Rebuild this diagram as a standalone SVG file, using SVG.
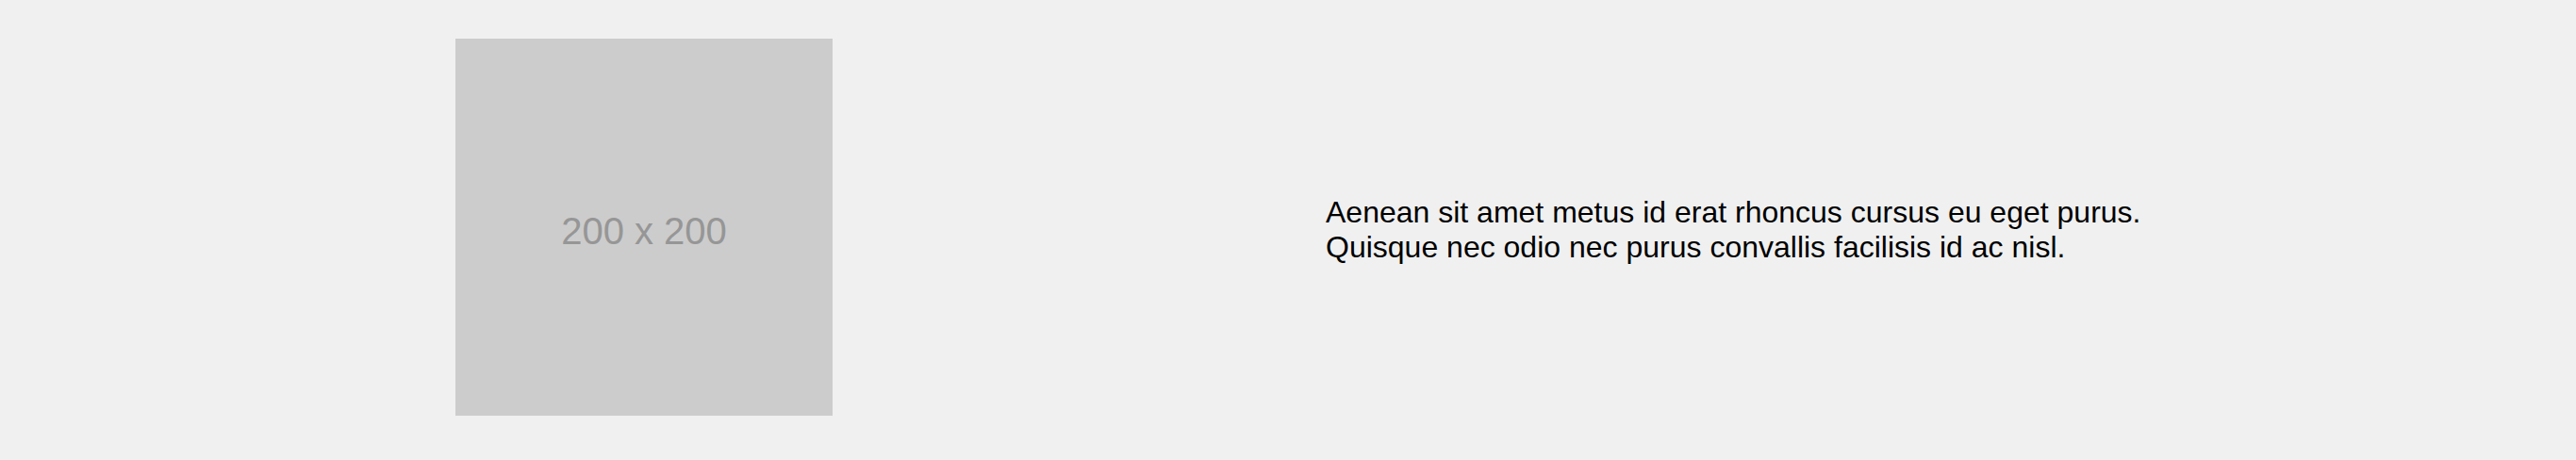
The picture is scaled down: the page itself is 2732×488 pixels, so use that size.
<svg xmlns="http://www.w3.org/2000/svg" width="2732" height="488" viewBox="0 0 2732 488">
<style>
.ph{fill:#cccccc}
.phtxt{font-family:"Liberation Sans",Arial,sans-serif;font-size:40px;fill:#969696;text-anchor:middle}
.body{font-family:"Liberation Sans",Arial,sans-serif;font-size:32px;fill:#000000}
</style>
<rect x="0" y="0" width="2732" height="488" fill="#f0f0f0"/>
<g id="image">
<rect class="ph" x="483" y="41" width="400" height="400"/>
<text class="phtxt" x="683" y="259">200 x 200</text>
</g>
<g id="text">
<text class="body" x="1406" y="236">Aenean sit amet metus id erat rhoncus cursus eu eget purus.</text>
<text class="body" x="1406" y="273">Quisque nec odio nec purus convallis facilisis id ac nisl.</text>
</g>
<g id="connectors"></g>
</svg>
